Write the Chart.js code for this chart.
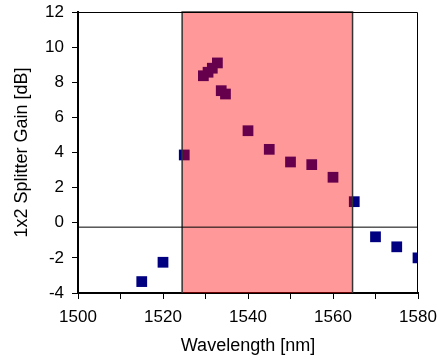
<!DOCTYPE html>
<html>
<head>
<meta charset="utf-8">
<script src="https://cdn.jsdelivr.net/npm/chart.js@4"></script>
<style>
  html, body { margin: 0; padding: 0; background: #fff; }
  #wrap { width: 439px; height: 360px; }
</style>
</head>
<body>
<div id="wrap"><canvas id="chart1"></canvas></div>
<script>
// Datos
const wavelength = [1515, 1520, 1525, 1529.5, 1530.6, 1531.6, 1532.8, 1533.7, 1534.7, 1540, 1545, 1550, 1555, 1560, 1565, 1570, 1575, 1580]
const gain = [-3.35, -2.25, 3.86, 8.37, 8.57, 8.8, 9.1, 7.52, 7.33, 5.24, 4.18, 3.46, 3.31, 2.59, 1.2, -0.8, -1.37, -2.0]

// Banda sombreada y linea de referencia
const band = [1524.5, 1564.6]
const refLine = -0.25

Chart.defaults.font.family = "'Liberation Sans', Arial, sans-serif"
Chart.defaults.color = '#000'

// Plugin para dibujar la banda rosa encima de los puntos, la linea horizontal y el marco
const overlay = {
    id: 'overlay',
    afterDatasetsDraw(chart) {
        const { ctx, chartArea: a, scales: { x, y } } = chart
        const x0 = x.getPixelForValue(band[0])
        const x1 = x.getPixelForValue(band[1])
        ctx.save()
        ctx.fillStyle = 'rgba(255, 0, 0, 0.4)'
        ctx.fillRect(x0, a.top, x1 - x0, a.bottom - a.top)
        ctx.strokeStyle = '#333'
        ctx.lineWidth = 1.5
        ctx.beginPath()
        ctx.moveTo(x0, a.bottom); ctx.lineTo(x0, a.top); ctx.lineTo(x1, a.top); ctx.lineTo(x1, a.bottom)
        ctx.stroke()

        // linea horizontal
        const yl = y.getPixelForValue(refLine)
        ctx.strokeStyle = '#000'
        ctx.lineWidth = 1
        ctx.beginPath()
        ctx.moveTo(a.left, yl); ctx.lineTo(a.right, yl)
        ctx.stroke()

        // marco superior y derecho
        ctx.beginPath()
        ctx.moveTo(a.left, a.top + 0.5); ctx.lineTo(a.right - 0.5, a.top + 0.5); ctx.lineTo(a.right - 0.5, a.bottom)
        ctx.stroke()
        ctx.restore()
    }
}

const data = {
    datasets: [{
        data: wavelength.map((w, i) => ({ x: w, y: gain[i] })),
        pointStyle: 'rect',
        pointRadius: 7.6,
        pointBackgroundColor: '#000080',
        pointBorderColor: '#000080',
        pointBorderWidth: 0,
        showLine: false
    }]
}

const options = {
    responsive: true,
    maintainAspectRatio: false,
    animation: false,
    layout: { padding: { top: 12, right: 21, left: 0, bottom: 0 } },
    plugins: {
        legend: { display: false },
        tooltip: { enabled: false }
    },
    scales: {
        x: {
            type: 'linear',
            min: 1500,
            max: 1580,
            afterFit(s) { s.height = 67; s.paddingLeft = 0; s.paddingRight = 0 },
            ticks: {
                stepSize: 10,
                autoSkip: false,
                maxRotation: 0,
                padding: 8,
                font: { size: 17 },
                callback: v => v % 20 === 0 ? v : ''
            },
            grid: { drawOnChartArea: false, drawTicks: true, tickLength: 6, color: '#000' },
            border: { display: true, color: '#000', width: 2 },
            title: { display: true, text: 'Wavelength [nm]', font: { size: 18 }, padding: { top: 0, bottom: 3 } }
        },
        y: {
            min: -4,
            max: 12,
            afterFit(s) { s.width = 78; s.paddingTop = 0; s.paddingBottom = 0 },
            ticks: { stepSize: 2, padding: 8, font: { size: 17 } },
            grid: { drawOnChartArea: false, drawTicks: true, tickLength: 6, color: '#000' },
            border: { display: true, color: '#000', width: 2 },
            title: { display: true, text: '1x2 Splitter Gain [dB]', font: { size: 18 }, padding: { top: 11, bottom: 0 } }
        }
    }
}

new Chart('chart1', { type: 'scatter', data, options, plugins: [overlay] })
</script>
</body>
</html>
